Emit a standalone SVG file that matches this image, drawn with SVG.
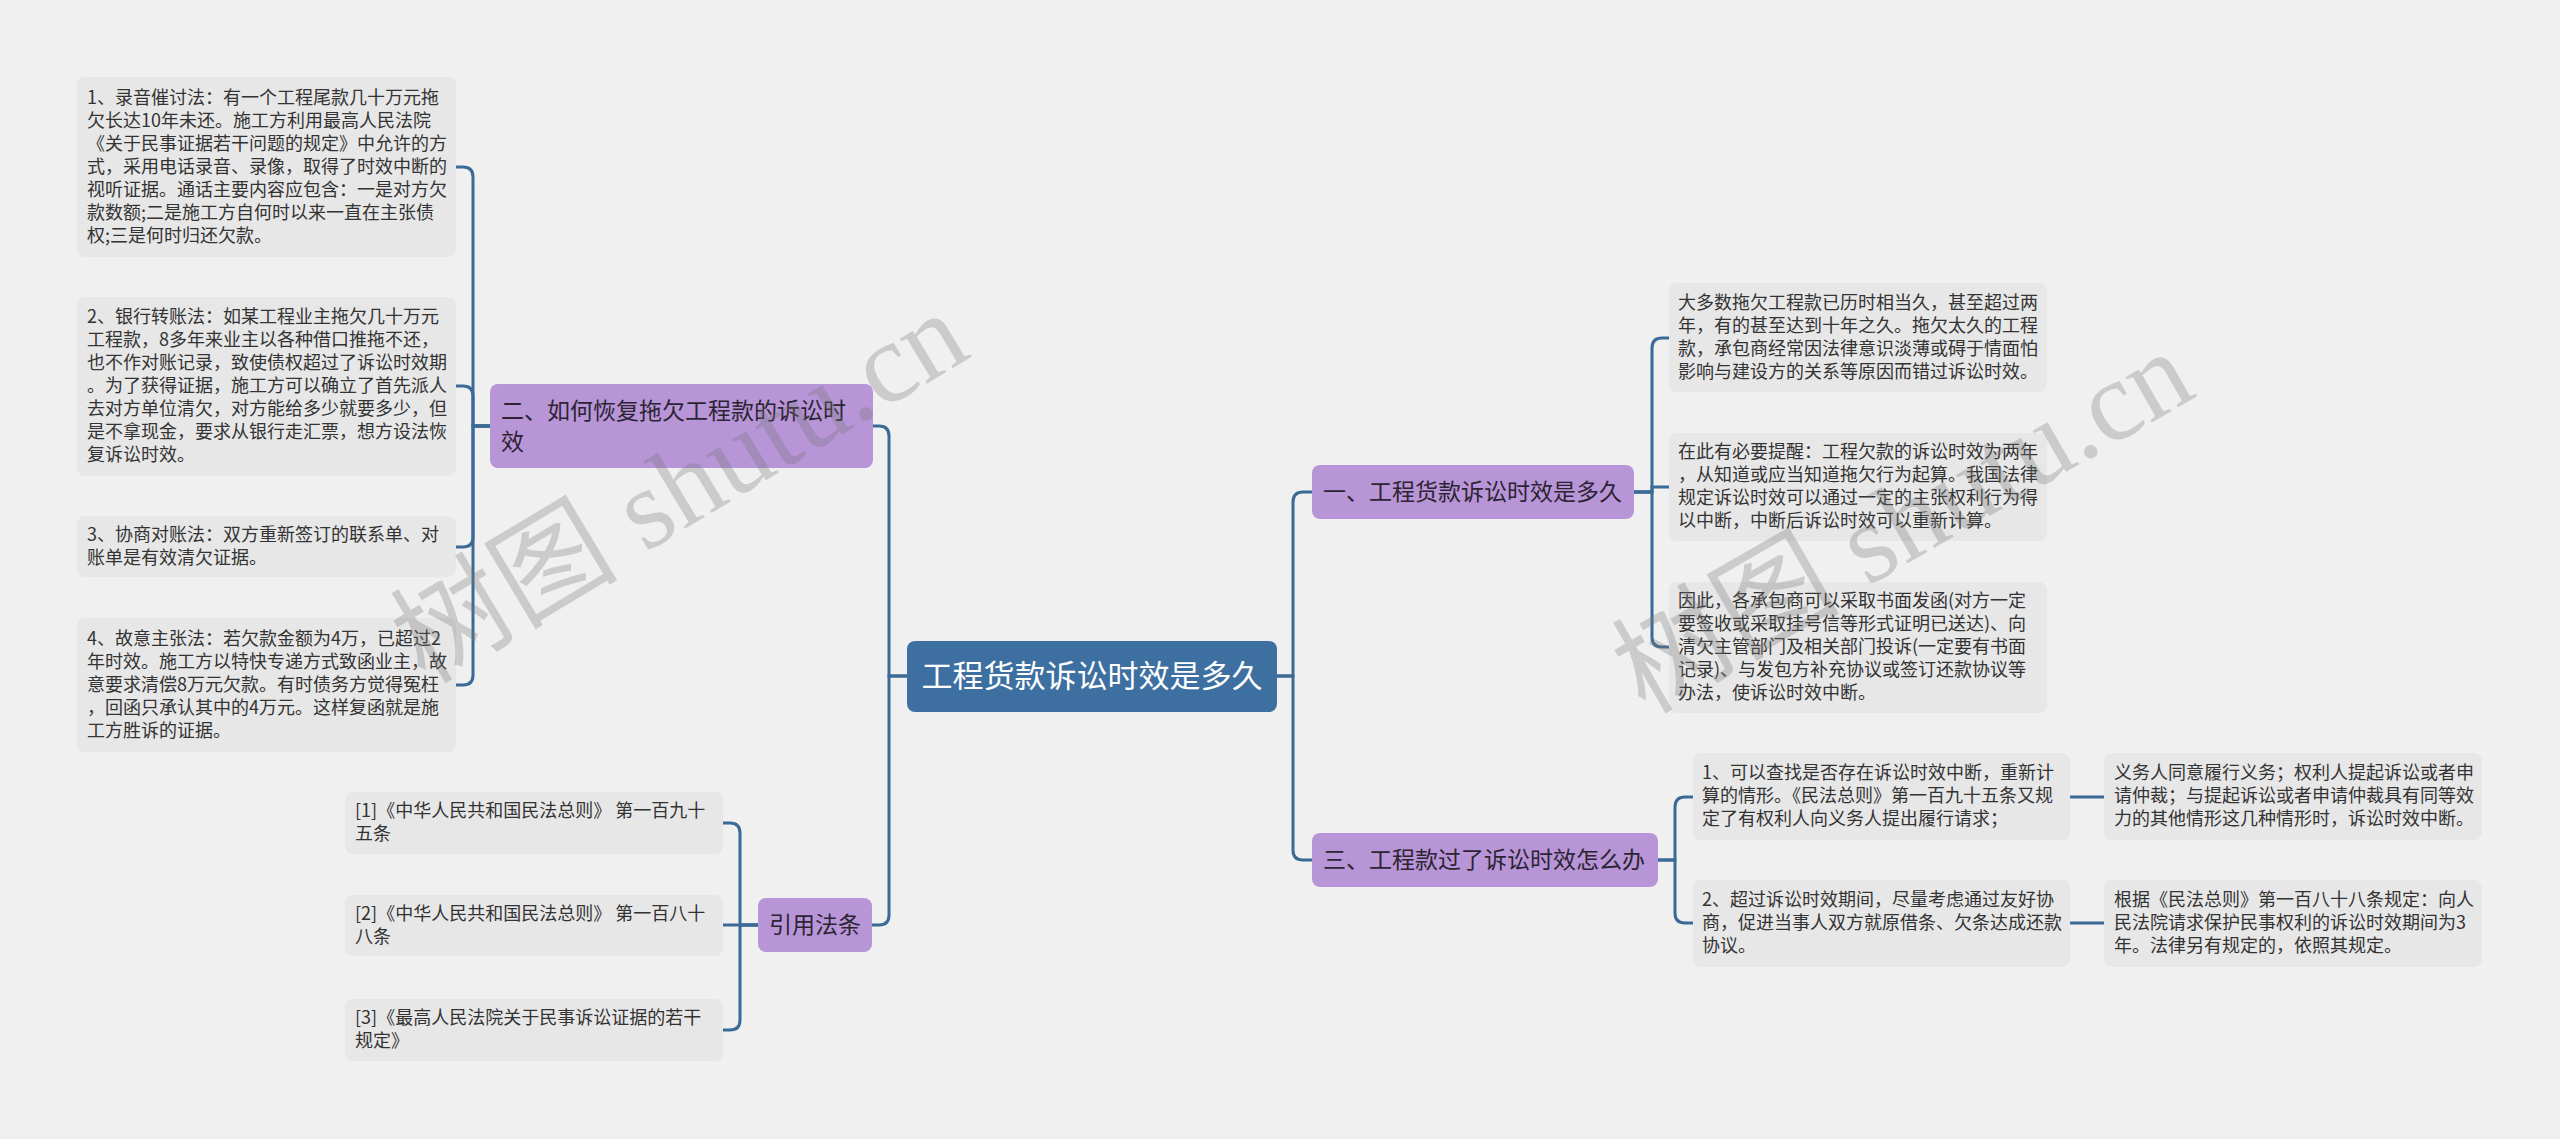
<svg xmlns="http://www.w3.org/2000/svg" width="2560" height="1139" viewBox="0 0 2560 1139">
<style>
.leaf{fill:#e7e7e7}
.br{fill:#b795d6}
.root{fill:#3d70a1}
.lt{font-family:"Noto Sans CJK SC","Microsoft YaHei",sans-serif;font-size:18px;fill:#333}
.bt{font-family:"Noto Sans CJK SC","Microsoft YaHei",sans-serif;font-size:23px;fill:#2c2433}
.rt{font-family:"Noto Sans CJK SC","Microsoft YaHei",sans-serif;font-size:31px;fill:#fff}
.wm{font-family:"Liberation Serif","Noto Sans CJK SC",serif;font-size:114px;fill:#777;opacity:0.3}
#connectors path{fill:none;stroke:#3b6a97;stroke-width:3}
</style>
<rect width="2560" height="1139" fill="#f0f0f0"/>
<g id="connectors">
<path d="M1277,676 H1293 V502 Q1293,492 1303,492 H1312"/>
<path d="M1277,676 H1293 V850 Q1293,860 1303,860 H1312"/>
<path d="M907,676 H889 V436 Q889,426 879,426 H873"/>
<path d="M907,676 H889 V915 Q889,925 879,925 H872"/>
<path d="M1634,492 H1652 V348 Q1652,338 1662,338 H1669"/>
<path d="M1634,492 H1652 V487 H1669"/>
<path d="M1634,492 H1652 V637 Q1652,647 1662,647 H1669"/>
<path d="M1658,860 H1675 V807 Q1675,797 1685,797 H1693"/>
<path d="M1658,860 H1675 V913 Q1675,923 1685,923 H1693"/>
<path d="M2070,797 H2104"/>
<path d="M2070,923 H2104"/>
<path d="M490,426 H473 V177 Q473,167 463,167 H456"/>
<path d="M490,426 H473 V396 Q473,386 463,386 H456"/>
<path d="M490,426 H473 V537 Q473,547 463,547 H456"/>
<path d="M490,426 H473 V675 Q473,685 463,685 H456"/>
<path d="M758,925 H740 V833 Q740,823 730,823 H723"/>
<path d="M758,925 H723"/>
<path d="M758,925 H740 V1020 Q740,1030 730,1030 H723"/>
</g>
<g id="root"><rect class="root" x="907" y="641" width="370" height="71" rx="8"/><text class="rt" x="1092" y="687" text-anchor="middle">工程货款诉讼时效是多久</text></g>
<g id="b1"><rect class="br" x="1312" y="465" width="322" height="54" rx="8"/><text class="bt" x="1323" y="500">一、工程货款诉讼时效是多久</text></g>
<g id="b3"><rect class="br" x="1312" y="833" width="346" height="54" rx="8"/><text class="bt" x="1323" y="868">三、工程款过了诉讼时效怎么办</text></g>
<g id="b2"><rect class="br" x="490" y="384" width="383" height="84" rx="8"/><text class="bt"><tspan x="501" y="419">二、如何恢复拖欠工程款的诉讼时</tspan><tspan x="501" y="450">效</tspan></text></g>
<g id="b4"><rect class="br" x="758" y="898" width="114" height="54" rx="8"/><text class="bt" x="815" y="933" text-anchor="middle">引用法条</text></g>
<g id="l1"><rect class="leaf" x="77" y="77" width="379" height="180" rx="8"/><text class="lt"><tspan x="87" y="104">1、录音催讨法：有一个工程尾款几十万元拖</tspan><tspan x="87" y="127">欠长达10年未还。施工方利用最高人民法院</tspan><tspan x="87" y="150">《关于民事证据若干问题的规定》中允许的方</tspan><tspan x="87" y="173">式，采用电话录音、录像，取得了时效中断的</tspan><tspan x="87" y="196">视听证据。通话主要内容应包含：一是对方欠</tspan><tspan x="87" y="219">款数额;二是施工方自何时以来一直在主张债</tspan><tspan x="87" y="242">权;三是何时归还欠款。</tspan></text></g>
<g id="l2"><rect class="leaf" x="77" y="297" width="379" height="179" rx="8"/><text class="lt"><tspan x="87" y="323">2、银行转账法：如某工程业主拖欠几十万元</tspan><tspan x="87" y="346">工程款，8多年来业主以各种借口推拖不还，</tspan><tspan x="87" y="369">也不作对账记录，致使债权超过了诉讼时效期</tspan><tspan x="87" y="392">。为了获得证据，施工方可以确立了首先派人</tspan><tspan x="87" y="415">去对方单位清欠，对方能给多少就要多少，但</tspan><tspan x="87" y="438">是不拿现金，要求从银行走汇票，想方设法恢</tspan><tspan x="87" y="461">复诉讼时效。</tspan></text></g>
<g id="l3"><rect class="leaf" x="77" y="516" width="379" height="61" rx="8"/><text class="lt"><tspan x="87" y="541">3、协商对账法：双方重新签订的联系单、对</tspan><tspan x="87" y="564">账单是有效清欠证据。</tspan></text></g>
<g id="l4"><rect class="leaf" x="77" y="618" width="379" height="134" rx="8"/><text class="lt"><tspan x="87" y="645">4、故意主张法：若欠款金额为4万，已超过2</tspan><tspan x="87" y="668">年时效。施工方以特快专递方式致函业主，故</tspan><tspan x="87" y="691">意要求清偿8万元欠款。有时债务方觉得冤枉</tspan><tspan x="87" y="714">，回函只承认其中的4万元。这样复函就是施</tspan><tspan x="87" y="737">工方胜诉的证据。</tspan></text></g>
<g id="c1"><rect class="leaf" x="345" y="792" width="378" height="62" rx="8"/><text class="lt"><tspan x="355" y="817">[1]《中华人民共和国民法总则》 第一百九十</tspan><tspan x="355" y="840">五条</tspan></text></g>
<g id="c2"><rect class="leaf" x="345" y="895" width="378" height="61" rx="8"/><text class="lt"><tspan x="355" y="920">[2]《中华人民共和国民法总则》 第一百八十</tspan><tspan x="355" y="943">八条</tspan></text></g>
<g id="c3"><rect class="leaf" x="345" y="999" width="378" height="62" rx="8"/><text class="lt"><tspan x="355" y="1024">[3]《最高人民法院关于民事诉讼证据的若干</tspan><tspan x="355" y="1047">规定》</tspan></text></g>
<g id="ra"><rect class="leaf" x="1669" y="283" width="378" height="109" rx="8"/><text class="lt"><tspan x="1678" y="309">大多数拖欠工程款已历时相当久，甚至超过两</tspan><tspan x="1678" y="332">年，有的甚至达到十年之久。拖欠太久的工程</tspan><tspan x="1678" y="355">款，承包商经常因法律意识淡薄或碍于情面怕</tspan><tspan x="1678" y="378">影响与建设方的关系等原因而错过诉讼时效。</tspan></text></g>
<g id="rb"><rect class="leaf" x="1669" y="433" width="378" height="108" rx="8"/><text class="lt"><tspan x="1678" y="458">在此有必要提醒：工程欠款的诉讼时效为两年</tspan><tspan x="1678" y="481">，从知道或应当知道拖欠行为起算。我国法律</tspan><tspan x="1678" y="504">规定诉讼时效可以通过一定的主张权利行为得</tspan><tspan x="1678" y="527">以中断，中断后诉讼时效可以重新计算。</tspan></text></g>
<g id="rc"><rect class="leaf" x="1669" y="582" width="378" height="131" rx="8"/><text class="lt"><tspan x="1678" y="607">因此，各承包商可以采取书面发函(对方一定</tspan><tspan x="1678" y="630">要签收或采取挂号信等形式证明已送达)、向</tspan><tspan x="1678" y="653">清欠主管部门及相关部门投诉(一定要有书面</tspan><tspan x="1678" y="676">记录)、与发包方补充协议或签订还款协议等</tspan><tspan x="1678" y="699">办法，使诉讼时效中断。</tspan></text></g>
<g id="s1"><rect class="leaf" x="1693" y="753" width="377" height="87" rx="8"/><text class="lt"><tspan x="1702" y="779">1、可以查找是否存在诉讼时效中断，重新计</tspan><tspan x="1702" y="802">算的情形。《民法总则》第一百九十五条又规</tspan><tspan x="1702" y="825">定了有权利人向义务人提出履行请求；</tspan></text></g>
<g id="s2"><rect class="leaf" x="1693" y="880" width="377" height="87" rx="8"/><text class="lt"><tspan x="1702" y="906">2、超过诉讼时效期间，尽量考虑通过友好协</tspan><tspan x="1702" y="929">商，促进当事人双方就原借条、欠条达成还款</tspan><tspan x="1702" y="952">协议。</tspan></text></g>
<g id="g1"><rect class="leaf" x="2104" y="753" width="378" height="87" rx="8"/><text class="lt"><tspan x="2114" y="779">义务人同意履行义务；权利人提起诉讼或者申</tspan><tspan x="2114" y="802">请仲裁；与提起诉讼或者申请仲裁具有同等效</tspan><tspan x="2114" y="825">力的其他情形这几种情形时，诉讼时效中断。</tspan></text></g>
<g id="g2"><rect class="leaf" x="2104" y="880" width="378" height="87" rx="8"/><text class="lt"><tspan x="2114" y="906">根据《民法总则》第一百八十八条规定：向人</tspan><tspan x="2114" y="929">民法院请求保护民事权利的诉讼时效期间为3</tspan><tspan x="2114" y="952">年。法律另有规定的，依照其规定。</tspan></text></g>
<text class="wm" transform="translate(425,685) rotate(-31)">树图 shutu.cn</text>
<text class="wm" transform="translate(1645,715) rotate(-30)">树图 shutu.cn</text>
</svg>
